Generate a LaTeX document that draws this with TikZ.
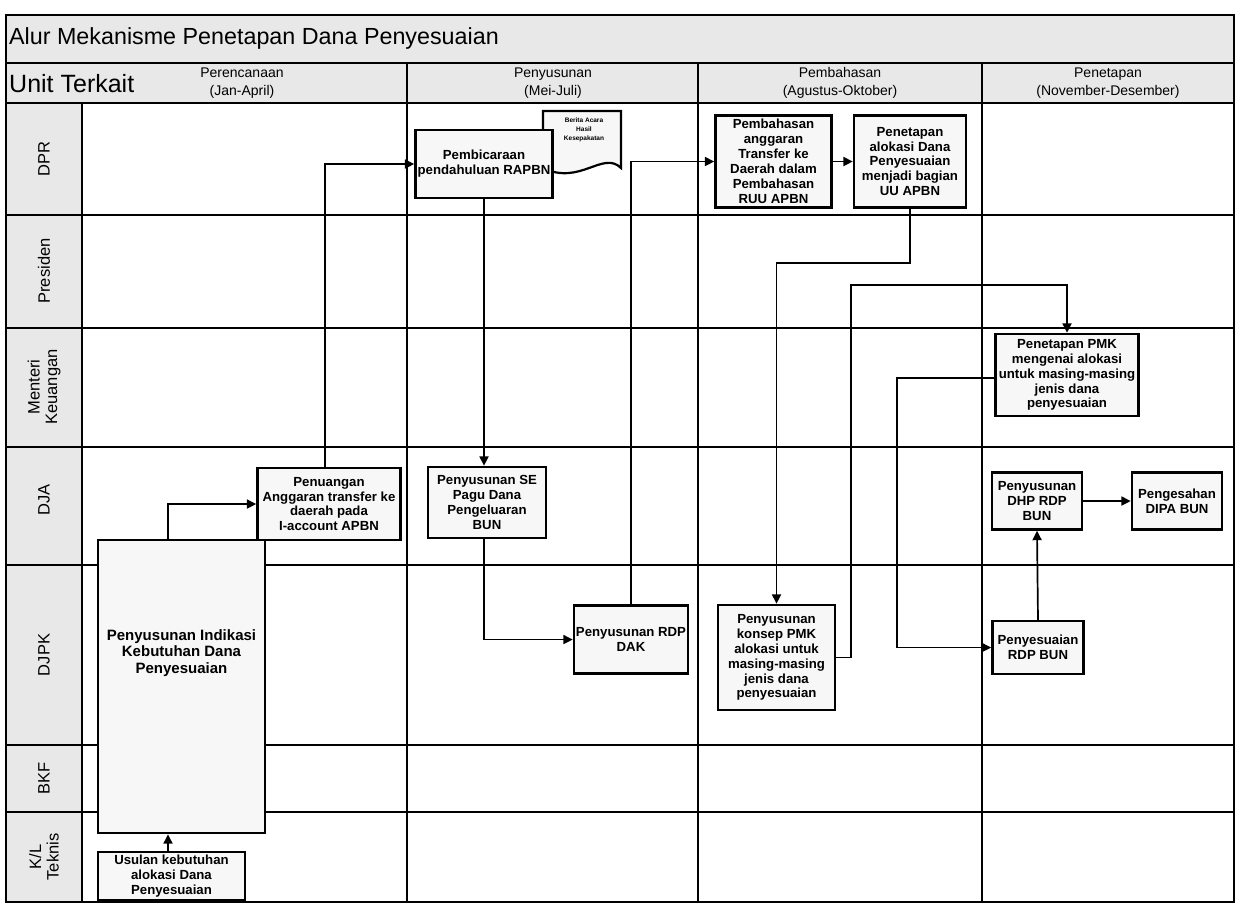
\documentclass[tikz,border=0pt]{standalone}
\usepackage{fontspec}
\setmainfont{Liberation Sans}
\usetikzlibrary{arrows.meta}
\begin{document}
\begin{tikzpicture}[x=1pt,y=-1pt,
  bg/.style={fill=black!9},
  frame/.style={line width=2pt},
  gridline/.style={line width=1.3pt},
  box/.style={draw, line width=2.4pt, fill=black!3, align=center, inner sep=0pt,
    font=\bfseries\fontsize{13.2}{14.9}\selectfont},
  boxtext/.style={align=center, inner sep=0pt, font=\bfseries\fontsize{15}{16.5}\selectfont},
  doctext/.style={align=center, inner sep=0pt, font=\bfseries\fontsize{6.5}{9}\selectfont},
  lane/.style={rotate=90, align=center, font=\fontsize{16.5}{17.5}\selectfont},
  hdr/.style={align=center, font=\fontsize{14}{17.5}\selectfont},
  conn/.style={line width=1.7pt, -{Triangle[length=9.5pt,width=9pt]}},
]
\useasboundingbox (0,0) rectangle (1240,903);
% backgrounds
\fill[bg] (6,15) rectangle (1234,103);
\fill[bg] (6,103) rectangle (82,902);
% grid
\foreach \yy in {215,328,447,565,745,812} \draw[gridline] (6,\yy) -- (1234,\yy);
\draw[gridline] (82,103) -- (82,902);
\foreach \xx in {407,698,982} \draw[gridline] (\xx,63) -- (\xx,902);
\draw[gridline] (6,63) -- (1234,63);
\draw[gridline] (6,103) -- (1234,103);
\draw[frame] (6,15) rectangle (1234,902);

% title and headers
\node[anchor=west, inner sep=0pt, font=\fontsize{23.3}{26}\selectfont] (title) at (9,38) {Alur Mekanisme Penetapan Dana Penyesuaian};
\node[anchor=west, inner sep=0pt, font=\fontsize{25}{27}\selectfont] (unit) at (9,84) {Unit Terkait};
\node[hdr] (h1) at (242,83) {Perencanaan\\(Jan-April)};
\node[hdr] (h2) at (553,83) {Penyusunan\\(Mei-Juli)};
\node[hdr] (h3) at (840,83) {Pembahasan\\(Agustus-Oktober)};
\node[hdr] (h4) at (1108,83) {Penetapan\\(November-Desember)};

% lane labels
\node[lane] (lDPR) at (44,159) {DPR};
\node[lane] (lPres) at (44,271) {Presiden};
\node[lane] (lMK) at (44,387) {Menteri\\Keuangan};
\node[lane] (lDJA) at (44,500) {DJA};
\node[lane] (lDJPK) at (44,655) {DJPK};
\node[lane] (lBKF) at (44,778) {BKF};
\node[lane] (lKL) at (44,857) {K/L\\Teknis};

% document shape
\draw[line width=2.2pt, fill=black!3] (543,111) -- (621,111) -- (621,168)
  .. controls (603,150) and (580,186) .. (543,168) -- cycle;
\node[doctext] (berita) at (584,130) {Berita Acara\\Hasil\\Kesepakatan};

% boxes
\node[box, minimum width=167pt, minimum height=293pt] (indikasi) at (181.5,686.5) {};
\node[boxtext] (indikasiT) at (181.5,653) {Penyusunan Indikasi\\Kebutuhan Dana\\Penyesuaian};
\node[box, minimum width=147pt, minimum height=48pt] (usulan) at (171.5,876) {Usulan kebutuhan\\alokasi Dana\\Penyesuaian};
\node[box, minimum width=143pt, minimum height=72pt] (penuangan) at (329,504) {Penuangan\\Anggaran transfer ke\\daerah pada\\I-account APBN};
\node[box, minimum width=137pt, minimum height=68pt] (pembicaraan) at (484,164) {Pembicaraan\\pendahuluan RAPBN};
\node[box, minimum width=118pt, minimum height=71pt] (sepagu) at (487,502.5) {Penyusunan SE\\Pagu Dana\\Pengeluaran\\BUN};
\node[box, minimum width=114pt, minimum height=68pt] (rdpdak) at (631,639.5) {Penyusunan RDP\\DAK};
\node[box, minimum width=116pt, minimum height=92pt] (pembahasan) at (773.5,161.5) {Pembahasan\\anggaran\\Transfer ke\\Daerah dalam\\Pembahasan\\RUU APBN};
\node[box, minimum width=112pt, minimum height=92pt] (alokasi) at (910,161.5) {Penetapan\\alokasi Dana\\Penyesuaian\\menjadi bagian\\UU APBN};
\node[box, minimum width=143pt, minimum height=82pt] (pmk) at (1067,375) {Penetapan PMK\\mengenai alokasi\\untuk masing-masing\\jenis dana\\penyesuaian};
\node[box, minimum width=90pt, minimum height=57pt] (dhp) at (1037,501) {Penyusunan\\DHP RDP\\BUN};
\node[box, minimum width=90pt, minimum height=57pt] (pengesahan) at (1177,501) {Pengesahan\\DIPA BUN};
\node[box, minimum width=117pt, minimum height=105pt] (konsep) at (776.5,657.5) {Penyusunan\\konsep PMK\\alokasi untuk\\masing-masing\\jenis dana\\penyesuaian};
\node[box, minimum width=91pt, minimum height=53pt] (penyesuaian) at (1038,647.5) {Penyesuaian\\RDP BUN};

% helper coordinates
\coordinate (hy) at (0,263);
\coordinate (iy) at (851,285);
\coordinate (jx) at (897,0);

% connectors
\draw[conn] ([xshift=-3.5pt]usulan.north) -- ([xshift=-3.5pt]usulan.north |- indikasi.south);
\draw[conn] ([xshift=-13.5pt]indikasi.north) |- (penuangan.west);
\draw[conn] ([xshift=-4pt]penuangan.north) |- (pembicaraan.west);
\draw[conn] (pembicaraan.south) -- (pembicaraan.south |- sepagu.north);
\draw[conn] (pembicaraan.south |- sepagu.south) |- (rdpdak.west);
\draw[conn] (rdpdak.north) |- (pembahasan.west);
\draw[conn] (pembahasan.east) -- (alokasi.west);
\draw[conn] (alokasi.south) -- (alokasi.south |- hy) -| (konsep.north);
\draw[conn] (konsep.east) -| (iy) -| (pmk.north);
\draw[conn] ([yshift=-3pt]pmk.west) -| (jx |- penyesuaian.west) -- (penyesuaian.west);
\draw[conn] (penyesuaian.north) -- (dhp.south);
\draw[conn] (dhp.east) -- (pengesahan.west);
\end{tikzpicture}
\end{document}
